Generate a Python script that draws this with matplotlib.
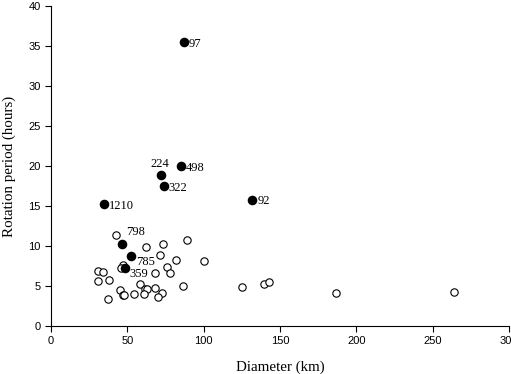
import matplotlib
matplotlib.use("Agg")
import matplotlib.pyplot as plt

# numbered asteroids (filled)
named_d = [87, 72.2, 85, 74, 132, 34.5, 46.5, 52.4, 48.4]
named_p = [35.5, 18.9, 20.0, 17.5, 15.8, 15.25, 10.3, 8.8, 7.2]
named_lab = ["97", "224", "498", "322", "92", "1210", "798", "785", "359"]
# label offsets in points (dx, dy)
lab_off = [(3.5, -3.5), (-8, 5.5), (3.5, -3.5), (3.5, -3.5), (3.5, -3.5),
           (3.5, -3.5), (3, 6), (3.5, -6.5), (3.5, -6.5)]

# other asteroids (open)
open_d = [42.3, 89.2, 73.1, 62.2, 71.1, 82.2, 100.1, 47.1, 75.9, 45.8,
          31.0, 34.0, 68.1, 78.1, 30.5, 38.2, 58.2, 86.2, 68.1, 125.0,
          139.6, 143.1, 45.2, 61.5, 63.0, 47.3, 48.0, 54.3, 60.9, 72.6,
          69.8, 37.1, 187.0, 263.7]
open_p = [11.4, 10.8, 10.3, 9.9, 8.9, 8.3, 8.1, 7.6, 7.4, 7.2,
          6.9, 6.7, 6.6, 6.6, 5.6, 5.75, 5.25, 5.0, 4.8, 4.9,
          5.3, 5.5, 4.5, 4.6, 4.6, 3.9, 3.9, 4.0, 4.0, 4.1,
          3.6, 3.4, 4.1, 4.2]

fig = plt.figure(figsize=(5.11, 3.74), dpi=100)
ax = fig.add_axes([0.0998, 0.1283, 0.8962, 0.8557])

ax.plot(open_d, open_p, "o", ms=5.3, mfc="white", mec="black", mew=0.8, ls="none", clip_on=False)
ax.plot(named_d, named_p, "o", ms=5.9, mfc="black", mec="black", ls="none", clip_on=False)
for d, p, s, (dx, dy) in zip(named_d, named_p, named_lab, lab_off):
    ax.annotate(s, (d, p), xytext=(dx, dy), textcoords="offset points",
                fontsize=9, family="Liberation Serif")

ax.set_xlim(0, 300)
ax.set_ylim(0, 40)
ax.set_xticks(range(0, 301, 50))
ax.set_yticks(range(0, 41, 5))
ax.spines["top"].set_visible(False)
ax.spines["right"].set_visible(False)
ax.tick_params(direction="out", length=4, width=0.8, labelsize=8)
for t in ax.get_xticklabels() + ax.get_yticklabels():
    t.set_family("Liberation Sans")

ax.set_xlabel("Diameter (km)", family="Liberation Serif", fontsize=10.8, labelpad=10)
ax.set_ylabel("Rotation period (hours)", family="Liberation Serif", fontsize=10.8, labelpad=9)

fig.savefig("out.png", dpi=100)
